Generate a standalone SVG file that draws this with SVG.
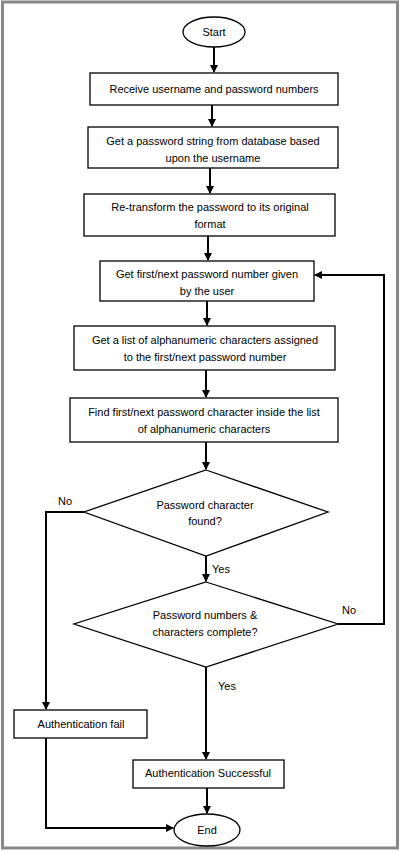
<svg xmlns="http://www.w3.org/2000/svg" width="400" height="852" viewBox="0 0 400 852">
<defs>
<marker id="a" markerWidth="8" markerHeight="8" refX="7" refY="4" orient="auto" markerUnits="userSpaceOnUse"><path d="M0,0L8,4L0,8z" fill="#000"/></marker>
<style>
.n{fill:#fff;stroke:#000;stroke-width:1.3}
text{font-family:"Liberation Sans",Arial,sans-serif;font-size:11px;fill:#000;text-anchor:middle}
.c{fill:none;stroke:#000;stroke-width:2;marker-end:url(#a)}
.l{text-anchor:start}
</style>
</defs>
<rect x="0" y="0" width="400" height="852" fill="#fff"/>
<rect x="2.5" y="2" width="395" height="846" fill="none" stroke="#888" stroke-width="3"/>
<g id="connectors">
<path class="c" d="M214,47V72"/>
<path class="c" d="M212,105V126"/>
<path class="c" d="M210,168V193"/>
<path class="c" d="M208,236V260"/>
<path class="c" d="M207,301V325"/>
<path class="c" d="M206,370V397"/>
<path class="c" d="M206,442V469"/>
<path class="c" d="M206,556V581"/>
<path class="c" d="M206,667V759"/>
<path class="c" d="M207,788V813"/>
<path class="c" d="M338,624H384V275H315"/>
<path class="c" d="M84,512H46V709"/>
<path class="c" d="M46,738V828H173"/>
</g>
<g id="start"><ellipse class="n" cx="214" cy="32" rx="31" ry="15"/><text x="214" y="36">Start</text></g>
<g id="n1"><rect class="n" x="90" y="73" width="248" height="32"/><text x="214" y="93">Receive username and password numbers</text></g>
<g id="n2"><rect class="n" x="88" y="127" width="250" height="41"/><text x="213" y="145">Get a password string from database based</text><text x="213" y="162">upon the username</text></g>
<g id="n3"><rect class="n" x="84" y="194" width="251" height="42"/><text x="210" y="211">Re-transform the password to its original</text><text x="210" y="228">format</text></g>
<g id="n4"><rect class="n" x="100" y="261" width="214" height="40"/><text x="207" y="278">Get first/next password number given</text><text x="207" y="295">by the user</text></g>
<g id="n5"><rect class="n" x="74" y="326" width="261" height="44"/><text x="205" y="344">Get a list of alphanumeric characters assigned</text><text x="205" y="361">to the first/next password number</text></g>
<g id="n6"><rect class="n" x="70" y="398" width="268" height="44"/><text x="204" y="416">Find first/next password character inside the list</text><text x="204" y="433">of alphanumeric characters</text></g>
<g id="d1"><polygon class="n" points="206,470 328,512 206,556 84,512"/><text x="205" y="509">Password character</text><text x="205" y="525">found?</text></g>
<g id="d2"><polygon class="n" points="206,582 338,624 206,667 74,624"/><text x="205" y="619">Password numbers &amp;</text><text x="205" y="636">characters complete?</text></g>
<g id="fail"><rect class="n" x="14" y="710" width="133" height="28"/><text x="81" y="728">Authentication fail</text></g>
<g id="succ"><rect class="n" x="133" y="760" width="151" height="28"/><text x="208" y="777">Authentication Successful</text></g>
<g id="end"><ellipse class="n" cx="207" cy="830" rx="33" ry="16"/><text x="207" y="834">End</text></g>
<g id="labels">
<text class="l" x="58" y="505">No</text>
<text class="l" x="212" y="573">Yes</text>
<text class="l" x="342" y="614">No</text>
<text class="l" x="218" y="690">Yes</text>
</g>
</svg>
